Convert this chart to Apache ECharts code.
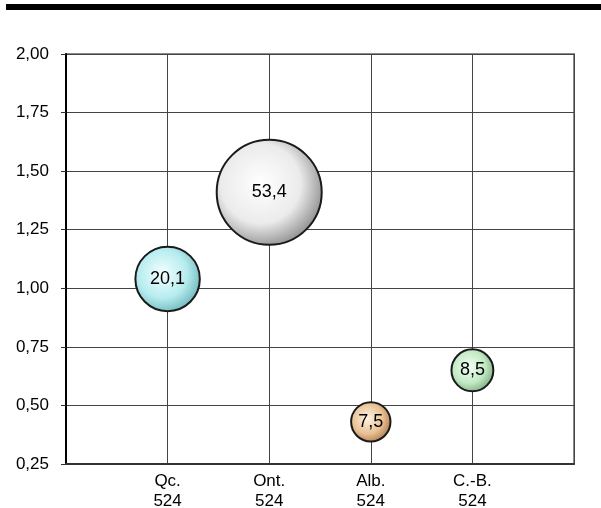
<!DOCTYPE html>
<html><head><meta charset="utf-8">
<script src="https://cdn.jsdelivr.net/npm/echarts@6/dist/echarts.min.js"></script>
<style>html,body{margin:0;padding:0;background:#fff}#c{width:601px;height:508px}</style>
</head><body><div id="c"></div>
<script>
const categories = ['Qc.', 'Ont.', 'Alb.', 'C.-B.'];
const sampleSizes = ['524', '524', '524', '524'];
const xPositions = [1, 2, 3, 4];
const yValues = [1.04, 1.41, 0.43, 0.65];
const bubbleValues = [20.1, 53.4, 7.5, 8.5];
const bubbleColors = [
  ['#f4ffff', '#b5ecef', '#6fb6bb'],
  ['#ffffff', '#ebebeb', '#8d8d8d'],
  ['#fff3e4', '#e9c194', '#a97a4a'],
  ['#f4fff4', '#c2e9c4', '#7cac80']
];

const chart = echarts.init(document.getElementById('c'), null, {renderer: 'canvas'});
const font = 'Liberation Sans, Arial, sans-serif';
const data = xPositions.map((x, i) => ({
  value: [x, yValues[i], bubbleValues[i]],
  itemStyle: {
    color: {
      type: 'radial', x: 0.42, y: 0.42, r: 0.62,
      colorStops: [
        {offset: 0, color: bubbleColors[i][0]},
        {offset: 0.6, color: bubbleColors[i][1]},
        {offset: 1, color: bubbleColors[i][2]}
      ]
    }
  }
}));

chart.setOption({
  animation: false,
  graphic: [{type: 'rect', shape: {x: 6, y: 4, width: 595, height: 6}, style: {fill: '#000'}}],
  grid: {left: 66, right: 27, top: 54, bottom: 44, show: true, borderColor: '#8a8a8a', borderWidth: 2,
         containLabel: false, outerBoundsMode: 'none'},
  xAxis: {
    type: 'value', min: 0, max: 5, interval: 1,
    axisLine: {show: true, lineStyle: {color: '#333', width: 2}},
    axisTick: {show: false},
    splitLine: {show: true, lineStyle: {color: '#444', width: 1}},
    axisLabel: {
      fontFamily: font, fontSize: 17, color: '#000', lineHeight: 20, margin: 7,
      formatter: v => {
        const i = xPositions.indexOf(v);
        return i >= 0 ? categories[i] + '\n' + sampleSizes[i] : '';
      }
    }
  },
  yAxis: {
    type: 'value', min: 0.25, max: 2.0, interval: 0.25,
    axisLine: {show: true, lineStyle: {color: '#000', width: 2}},
    axisTick: {show: true, length: 5, lineStyle: {color: '#333'}},
    splitLine: {show: true, lineStyle: {color: '#444', width: 1}},
    axisLabel: {
      fontFamily: font, fontSize: 17, color: '#000', margin: 17,
      formatter: v => v.toFixed(2).replace('.', ',')
    }
  },
  series: [{
    type: 'scatter',
    data: data,
    symbolSize: d => 14.37 * Math.sqrt(d[2]),
    itemStyle: {borderColor: '#1a1a1a', borderWidth: 2, opacity: 1},
    label: {
      show: true, position: 'inside', fontFamily: font, fontSize: 18, color: '#000',
      formatter: p => String(p.value[2]).replace('.', ',')
    }
  }]
});
</script></body></html>
